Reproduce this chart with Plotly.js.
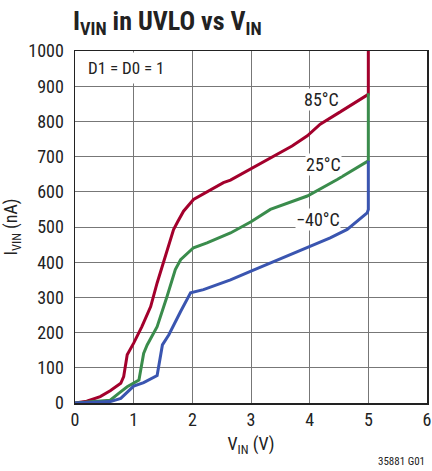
<!DOCTYPE html>
<html>
<head>
<meta charset="utf-8">
<script src="https://cdn.plot.ly/plotly-3.0.1.min.js"></script>
<style>
html,body{margin:0;padding:0;background:#fff;}
#chart{width:432px;height:471px;}
</style>
</head>
<body>
<div id="chart"></div>
<script>
var red_x = [0, 0.2, 0.43, 0.6, 0.78, 0.83, 0.89, 1.0, 1.14, 1.29, 1.40, 1.57, 1.68, 1.75, 1.85, 2.02, 2.3, 2.53, 2.65, 3.0, 3.33, 3.7, 3.96, 4.18, 4.5, 5.0, 5.0];
var red_y = [0, 5, 18, 35, 56, 75, 137, 170, 217, 274, 341, 436, 493, 515, 545, 578, 605, 626, 633, 665, 697, 730, 759, 792, 825, 877, 1000];
var green_x = [0, 0.3, 0.6, 0.75, 0.89, 1.09, 1.17, 1.23, 1.40, 1.57, 1.71, 1.80, 2.02, 2.25, 2.65, 3.0, 3.33, 3.96, 4.47, 5.0, 5.0];
var green_y = [0, 3, 8, 28, 46, 65, 141, 165, 217, 303, 379, 407, 441, 455, 483, 515, 550, 588, 635, 688, 880];
var blue_x = [0, 0.3, 0.6, 0.78, 1.0, 1.17, 1.40, 1.49, 1.60, 1.80, 1.97, 2.19, 2.65, 2.99, 3.5, 4.01, 4.35, 4.64, 4.98, 5.0, 5.0];
var blue_y = [0, 1, 4, 13, 48, 58, 78, 165, 194, 260, 313, 322, 350, 374, 410, 445, 469, 493, 540, 550, 688];
var series_labels = ["85°C", "25°C", "\u221240°C"];
var label_x = [4.21, 4.23, 4.14];
var label_y = [862, 678, 522];
var colors = ["#a3002c", "#3a8c4c", "#3a55b0"];

var F = '"Liberation Sans Narrow", "Arial Narrow", "Roboto Condensed", sans-serif';

var traces = [
  {x: red_x, y: red_y, mode: 'lines', line: {color: colors[0], width: 3}, hoverinfo: 'skip'},
  {x: green_x, y: green_y, mode: 'lines', line: {color: colors[1], width: 3}, hoverinfo: 'skip'},
  {x: blue_x, y: blue_y, mode: 'lines', line: {color: colors[2], width: 3}, hoverinfo: 'skip'}
];

var annotations = series_labels.map(function(t, i){
  return {x: label_x[i], y: label_y[i], xref: 'x', yref: 'y', text: t, showarrow: false,
          font: {family: F, size: 18, color: '#222'}, bgcolor: '#fff', borderpad: 0};
});
annotations.push({x: 0.12, y: 953, xref: 'x', yref: 'y', xanchor: 'left', text: 'D1 = D0 = 1', showarrow: false,
  font: {family: F, size: 17, color: '#222'}, bgcolor: '#fff', borderpad: 5});
annotations.push({x: 1, y: 0, xref: 'paper', yref: 'paper', xanchor: 'right', yanchor: 'bottom', yshift: -67,
  text: '35881 G01', showarrow: false, font: {family: F, size: 11, color: '#222'}});

var layout = {
  width: 432, height: 471,
  margin: {l: 75, r: 5, t: 51, b: 68},
  paper_bgcolor: '#fff', plot_bgcolor: '#fff',
  showlegend: false,
  title: {text: '<b>I<sub>VIN</sub> in UVLO vs V<sub>IN</sub></b>', x: 73/432, xanchor: 'left', y: 1 - 30/471, yanchor: 'bottom',
    font: {family: F, size: 26, color: '#222'}},
  xaxis: {range: [0, 6], dtick: 1, showgrid: true, gridcolor: '#777', gridwidth: 1,
    showline: true, linecolor: '#222', linewidth: 1.5, mirror: true, zeroline: false, ticks: '',
    tickfont: {family: F, size: 18, color: '#222'},
    title: {text: 'V<sub>IN</sub> (V)', font: {family: F, size: 18, color: '#222'}, standoff: 8}},
  yaxis: {range: [0, 1000], dtick: 100, showgrid: true, gridcolor: '#777', gridwidth: 1,
    showline: true, linecolor: '#222', linewidth: 1.5, mirror: true, zeroline: false, ticks: '',
    tickfont: {family: F, size: 18, color: '#222'}, ticklabelstandoff: 6,
    title: {text: 'I<sub>VIN</sub> (nA)', font: {family: F, size: 18, color: '#222'}, standoff: 6}},
  annotations: annotations
};

Plotly.newPlot('chart', traces, layout, {staticPlot: true, displayModeBar: false});
</script>
</body>
</html>
